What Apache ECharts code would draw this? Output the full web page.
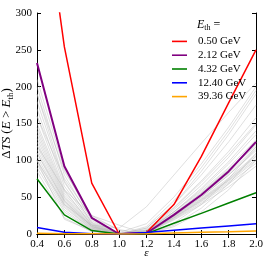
<!DOCTYPE html>
<html><head><meta charset="utf-8">
<script src="https://cdn.jsdelivr.net/npm/echarts@6/dist/echarts.min.js"></script>
<style>html,body{margin:0;padding:0;background:#fff}#c{width:266px;height:266px}</style>
</head><body><div id="c"></div>
<script>
const eps = [0.4, 0.6, 0.8, 1.0, 1.2, 1.4, 1.6, 1.8, 2.0];
const xTicks = [0.4, 0.6, 0.8, 1.0, 1.2, 1.4, 1.6, 1.8, 2.0];
const yTicks = [0, 50, 100, 150, 200, 250, 300];

const names = ['0.50 GeV', '2.12 GeV', '4.32 GeV', '12.40 GeV', '39.36 GeV'];
const colors = ['#ff0000', '#800080', '#008000', '#0000ff', '#ffa500'];
const red    = [522, 254, 69, 0, 2, 40, 105, 178, 250];
const purple = [232, 92, 22, 0, 1, 26, 53, 85, 125];
const green  = [75, 26, 4.6, 0, 0.5, 14.6, 28, 42, 56];
const blue   = [8.7, 2.3, 0.3, 0, 2, 5, 8, 11, 14];
const orange = [1, 0.5, 0.2, 0, 0.3, 1.5, 2.5, 3.2, 4];

const grey01 = [200, 80, 18, 0, 3, 30, 60, 95, 135];
const grey02 = [190, 72, 15, 0, 4, 33, 66, 104, 148];
const grey03 = [180, 70, 16, 1, 6, 36, 72, 112, 158];
const grey04 = [170, 65, 14, 0, 8, 40, 80, 125, 175];
const grey05 = [160, 60, 12, 0, 10, 45, 90, 140, 195];
const grey06 = [150, 58, 13, 1, 5, 30, 58, 90, 128];
const grey07 = [145, 55, 12, 0, 3, 28, 56, 88, 122];
const grey08 = [140, 52, 11, 0, 2, 25, 50, 80, 115];
const grey09 = [135, 50, 10, 0, 2, 24, 48, 76, 108];
const grey10 = [130, 48, 10, 0, 3, 26, 52, 82, 118];
const grey11 = [125, 46, 9, 0, 2, 22, 46, 73, 105];
const grey12 = [120, 44, 8, 0, 2, 21, 44, 70, 100];
const grey13 = [115, 42, 8, 0, 1, 20, 42, 68, 96];
const grey14 = [110, 40, 7, 0, 2, 23, 47, 74, 106];
const grey15 = [105, 38, 6, 0, 1, 19, 40, 64, 92];
const grey16 = [100, 36, 6, 0, 2, 24, 50, 80, 113];
const grey17 = [95, 33, 5, 0, 3, 27, 55, 87, 120];
const grey18 = [90, 30, 5, 0, 1, 22, 45, 72, 102];
const grey19 = [190, 85, 25, 5, 0, 15, 40, 75, 118];
const grey20 = [160, 75, 22, 6, 0, 12, 35, 68, 110];
const grey21 = [120, 60, 25, 12, 0, 10, 30, 60, 100];
const grey22 = [110, 45, 10, 2, 14, 50, 95, 145, 200];
const grey23 = [85, 22, 3, 0, 8, 40, 85, 135, 190];
const grey24 = [100, 40, 12, 8, 37, 80, 123, 165, 205];
const grey25 = [210, 88, 20, 0, 5, 35, 70, 108, 150];
const grey26 = [100, 20, 4, 0, 4, 30, 62, 98, 140];
const greys = [grey01, grey02, grey03, grey04, grey05, grey06, grey07, grey08, grey09, grey10, grey11, grey12, grey13,
  grey14, grey15, grey16, grey17, grey18, grey19, grey20, grey21, grey22, grey23, grey24, grey25, grey26];
const mains = [red, purple, green, blue, orange];

const FONT = 'Liberation Serif';
const pair = v => eps.map((x, i) => [x, v[i]]);
const series = [];
greys.forEach((g, i) => series.push({
  type: 'line', name: 'g' + i, data: pair(g), symbol: 'none', silent: true,
  lineStyle: {color: 'rgba(185,185,185,0.45)', width: 1}, z: 1
}));
mains.forEach((m, i) => series.push({
  type: 'line', name: names[i], data: pair(m), symbol: 'none',
  color: colors[i], lineStyle: {color: colors[i], width: i === 1 ? 2 : 1.5}, z: 3
}));

const baseX = {type: 'value', min: 0.4, max: 2.0, interval: 0.2, splitLine: {show: false},
  axisLine: {lineStyle: {color: '#000', width: 1}}, axisTick: {inside: true, length: 4, lineStyle: {color: '#000'}}};
const baseY = {type: 'value', min: 0, max: 300, interval: 50, splitLine: {show: false},
  axisLine: {lineStyle: {color: '#000', width: 1}}, axisTick: {inside: true, length: 4, lineStyle: {color: '#000'}}};

const chart = echarts.init(document.getElementById('c'), null, {renderer: 'canvas'});
chart.setOption({
  animation: false,
  textStyle: {fontFamily: FONT},
  grid: {left: 37, right: 10, top: 13, bottom: 32, show: false, containLabel: false, outerBoundsMode: 'none'},
  title: {
    text: '{i|E}{s|th}{n| =}', left: 197, top: 18, padding: 0,
    textStyle: {fontWeight: 'normal', rich: {
      i: {fontFamily: FONT, fontStyle: 'italic', fontWeight: 'normal', fontSize: 12, color: '#000'},
      s: {fontFamily: FONT, fontWeight: 'normal', fontSize: 8, color: '#000', padding: [6, 0, 0, 0]},
      n: {fontFamily: FONT, fontWeight: 'normal', fontSize: 12, color: '#000'}
    }}
  },
  legend: {
    data: names, orient: 'vertical', left: 172, top: 35, icon: 'rect', itemWidth: 15, itemHeight: 1.6,
    itemGap: 1, padding: 0,
    textStyle: {fontFamily: FONT, fontSize: 11, color: '#000', lineHeight: 12.8, padding: [0, 0, 0, 6]}
  },
  xAxis: [
    Object.assign({}, baseX, {position: 'bottom', name: 'ε', nameLocation: 'middle', nameGap: 14,
      nameMoveOverlap: false,
      nameTextStyle: {fontFamily: FONT, fontStyle: 'italic', fontSize: 11, color: '#000'},
      axisLabel: {fontFamily: FONT, fontSize: 11, color: '#000', margin: 5, formatter: v => v.toFixed(1)}}),
    Object.assign({}, baseX, {position: 'top', axisLabel: {show: false}})
  ],
  yAxis: [
    Object.assign({}, baseY, {position: 'left',
      name: '{n|Δ}{i|TS} {n|(}{i|E}{n| > }{i|E}{s|th}{n|)}', nameLocation: 'middle', nameRotate: 90, nameGap: 22,
      nameMoveOverlap: false,
      nameTextStyle: {rich: {
        n: {fontFamily: FONT, fontSize: 13, color: '#000'},
        i: {fontFamily: FONT, fontSize: 13, fontStyle: 'italic', color: '#000'},
        s: {fontFamily: FONT, fontSize: 9, color: '#000', padding: [7, 0, 0, 0]}
      }},
      axisLabel: {fontFamily: FONT, fontSize: 11, color: '#000', margin: 5}}),
    Object.assign({}, baseY, {position: 'right', axisLabel: {show: false}})
  ],
  series: series
});
</script></body></html>
